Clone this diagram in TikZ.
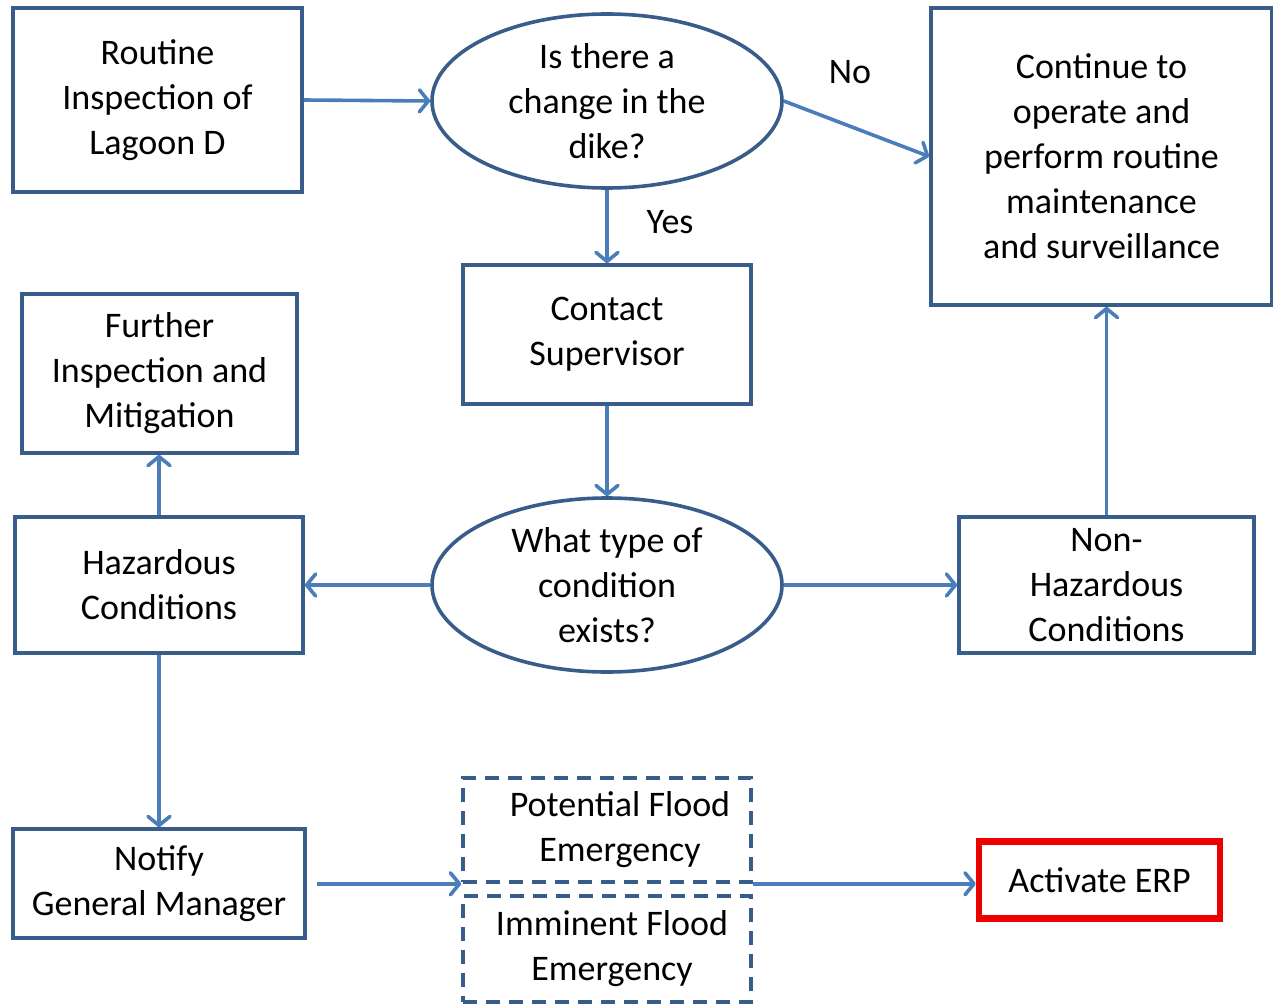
\documentclass[tikz,border=0pt]{standalone}
\usepackage{fontspec}
\setmainfont{Carlito}
\usetikzlibrary{arrows.meta,shapes.geometric,calc}
\definecolor{boxblue}{RGB}{56,93,138}
\definecolor{arrowblue}{RGB}{74,126,187}
\definecolor{erpred}{RGB}{236,0,0}

\begin{document}
\begin{tikzpicture}[x=1pt, y=-1pt,
    box/.style={draw=boxblue, line width=3.6pt, rectangle, align=center,
        inner sep=0pt, font=\fontsize{36}{45}\selectfont},
    query/.style={box, ellipse, minimum width=350pt, minimum height=174pt},
    option/.style={box, dash pattern=on 14pt off 9pt},
    flow/.style={draw=arrowblue, line width=3.6pt,
        -{Straight Barb[length=9pt, width=22pt, line cap=round, line join=round]}},
    answer/.style={font=\fontsize{36}{45}\selectfont}]
    \useasboundingbox (0,0) rectangle (1273,1006);

    % Top row
    \node[box, minimum width=289pt, minimum height=184pt] (routine)
        at (157.5,100) {Routine\\Inspection of\\Lagoon D};
    \node[query] (change) at (607,101) {Is there a\\change in the\\dike?};
    \node[box, minimum width=341pt, minimum height=297pt] (continue)
        at (1101.5,156.5) {Continue to\\operate and\\perform routine\\maintenance\\and surveillance};
    \node[box, minimum width=288pt, minimum height=139pt] (contact)
        at (607,334.5) {Contact\\Supervisor};
    \node[box, minimum width=275pt, minimum height=159pt] (further)
        at (159.5,373.5) {Further\\Inspection and\\Mitigation};

    % Middle row
    \node[box, minimum width=288pt, minimum height=136pt] (hazard)
        at (159,585) {Hazardous\\Conditions};
    \node[query] (condition) at (607,585) {What type of\\condition\\exists?};
    \node[box, minimum width=295pt, minimum height=136pt] (nonhazard)
        at (1106.5,585) {Non-\\Hazardous\\Conditions};

    % Bottom row
    \node[box, minimum width=292pt, minimum height=109pt] (notify)
        at (159,883.5) {Notify\\General Manager};
    \node[option, minimum width=288pt, minimum height=104pt] (potential)
        at (607,830) {\hspace*{26pt}Potential Flood\\\hspace*{26pt}Emergency};
    \node[option, minimum width=288pt, minimum height=106pt] (imminent)
        at (607,949) {\hspace*{10pt}Imminent Flood\\\hspace*{10pt}Emergency};
    \node[box, draw=erpred, line width=6.5pt, minimum width=241pt, minimum height=77pt] (erp)
        at (1099.5,880) {Activate ERP};

    % Connectors
    \draw[flow] (routine.east) -- (change.west);
    \draw[flow] (change.east) -- (continue.west);
    \draw[flow] (change.south) -- (contact.north);
    \draw[flow] (contact.south) -- (condition.north);
    \draw[flow] (condition.west) -- (hazard.east);
    \draw[flow] (condition.east) -- (nonhazard.west);
    \draw[flow] (nonhazard.north) -- (nonhazard.north |- continue.south);
    \draw[flow] (hazard.north) -- (hazard.north |- further.south);
    \draw[flow] (hazard.south) -- (hazard.south |- notify.north);
    \draw[flow] ($(notify.east |- potential.south)+(10,0)$) -- (potential.south west);
    \draw[flow] (potential.south east) -- (potential.south east -| erp.west);

    \node[answer] (no) at (850,72) {No};
    \node[answer] (yes) at (670,222) {Yes};
\end{tikzpicture}
\end{document}
